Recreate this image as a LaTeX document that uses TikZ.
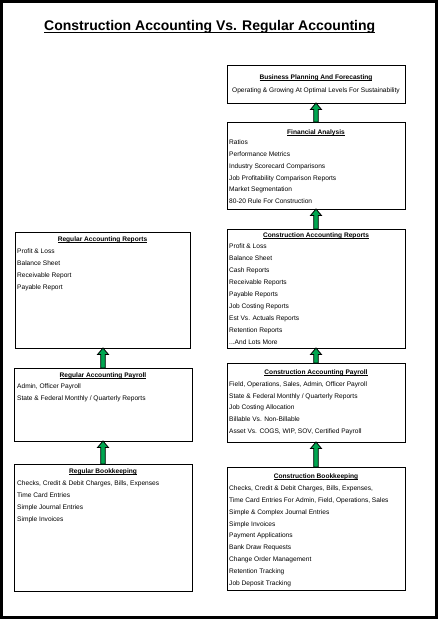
\documentclass[tikz,border=0pt]{standalone}
\usepackage{fontspec}
\setmainfont{Liberation Sans}
\usetikzlibrary{calc}
\definecolor{arrowgreen}{RGB}{0,166,80}
\newcommand{\myul}[1]{\setbox0=\hbox{#1}\rlap{\rule[-0.16em]{\wd0}{0.075em}}\box0}
\newcommand{\blockarrow}[2]{%
  \draw[blk] let \p1=(#1.north), \p2=(#2.south) in
    (\x1-2.3pt,\y1) -- (\x1-2.3pt,\y2-6.5pt) -- (\x1-5.5pt,\y2-6.5pt) -- (\x1,\y2)
    -- (\x1+5.5pt,\y2-6.5pt) -- (\x1+2.3pt,\y2-6.5pt) -- (\x1+2.3pt,\y1) -- cycle;}
\begin{document}
\begin{tikzpicture}[x=1pt,y=-1pt,
  box/.style={draw, line width=0.9pt, anchor=north west, inner sep=0pt, outer sep=0pt},
  ttl/.style={font=\fontsize{6.6}{8}\selectfont\bfseries, inner sep=0pt, text height=5pt, text depth=1.6pt, yshift=-1.5pt},
  ln/.style={font=\fontsize{6.6}{8}\selectfont, anchor=west, inner sep=0pt, text height=5pt, text depth=1.4pt, yshift=-1.5pt},
  blk/.style={fill=arrowgreen, draw=black, line width=0.8pt, line join=miter}]
\useasboundingbox (0,0) rectangle (438,619);
\fill[white] (0,0) rectangle (438,619);
\draw[line width=3.2pt] (1.6,1.6) rectangle (436.4,617.4);

\node[font=\fontsize{14}{16}\selectfont\bfseries, inner sep=0pt, anchor=base] (title) at (209.7,30.5)
  {\myul{Construction Accounting Vs. Regular Accounting}};

% ---------- right column ----------
\node[box, minimum width=178pt, minimum height=38pt] (r1) at (227,65) {};
\node[box, minimum width=178pt, minimum height=87pt] (r2) at (227,122) {};
\node[box, minimum width=178pt, minimum height=119pt] (r3) at (227,229) {};
\node[box, minimum width=178pt, minimum height=79pt] (r4) at (227,363) {};
\node[box, minimum width=178pt, minimum height=123pt] (r5) at (227,467) {};

\node[ttl] (r1t) at (316,76) {\myul{Business Planning And Forecasting}};
\node[ln, anchor=center] (r1l1) at (316,89) {Operating \& Growing At Optimal Levels For Sustainability};

\node[ttl] (r2t) at (316,131) {\myul{Financial Analysis}};
\foreach \t [count=\i] in {Ratios, Performance Metrics, Industry Scorecard Comparisons,
  Job Profitability Comparison Reports, Market Segmentation, 80-20 Rule For Construction}
  \node[ln] (r2l\i) at (229,{141+11.9*(\i-1)}) {\t};

\node[ttl] (r3t) at (316,234) {\myul{Construction Accounting Reports}};
\foreach \t [count=\i] in {Profit \& Loss, Balance Sheet, Cash Reports, Receivable Reports,
  Payable Reports, Job Costing Reports, Est Vs. Actuals Reports, Retention Reports}
  \node[ln] (r3l\i) at (229,{245+12*(\i-1)}) {\t};
\node[ln] (r3l9) at (229,341) {...And Lots More};

\node[ttl] (r4t) at (316,371) {\myul{Construction Accounting Payroll}};
\foreach \t [count=\i] in {{Field, Operations, Sales, Admin, Officer Payroll},
  State \& Federal Monthly / Quarterly Reports, Job Costing Allocation,
  Billable Vs. Non-Billable, {Asset Vs. COGS, WIP, SOV, Certified Payroll}}
  \node[ln] (r4l\i) at (229,{383+11.8*(\i-1)}) {\t};

\node[ttl] (r5t) at (316,475) {\myul{Construction Bookkeeping}};
\foreach \t [count=\i] in {{Checks, Credit \& Debit Charges, Bills, Expenses,},
  {Time Card Entries For Admin, Field, Operations, Sales}, Simple \& Complex Journal Entries,
  Simple Invoices, Payment Applications, Bank Draw Requests, Change Order Management,
  Retention Tracking, Job Deposit Tracking}
  \node[ln] (r5l\i) at (229,{487+11.9*(\i-1)}) {\t};

% ---------- left column ----------
\node[box, minimum width=175pt, minimum height=116pt] (l1) at (15,232) {};
\node[box, minimum width=178pt, minimum height=73pt] (l2) at (14,368) {};
\node[box, minimum width=178pt, minimum height=127pt] (l3) at (14,464) {};

\node[ttl] (l1t) at (102.5,238) {\myul{Regular Accounting Reports}};
\foreach \t [count=\i] in {Profit \& Loss, Balance Sheet, Receivable Report, Payable Report}
  \node[ln] (l1l\i) at (17,{250+12*(\i-1)}) {\t};

\node[ttl] (l2t) at (103,374) {\myul{Regular Accounting Payroll}};
\foreach \t [count=\i] in {{Admin, Officer Payroll}, State \& Federal Monthly / Quarterly Reports}
  \node[ln] (l2l\i) at (17,{385+12*(\i-1)}) {\t};

\node[ttl] (l3t) at (103,470) {\myul{Regular Bookkeeping}};
\foreach \t [count=\i] in {{Checks, Credit \& Debit Charges, Bills, Expenses}, Time Card Entries,
  Simple Journal Entries, Simple Invoices}
  \node[ln] (l3l\i) at (17,{482+12*(\i-1)}) {\t};

% ---------- arrows ----------
\blockarrow{r2}{r1}
\blockarrow{r3}{r2}
\blockarrow{r4}{r3}
\blockarrow{r5}{r4}
\blockarrow{l2}{l1}
\blockarrow{l3}{l2}
\end{tikzpicture}
\end{document}
